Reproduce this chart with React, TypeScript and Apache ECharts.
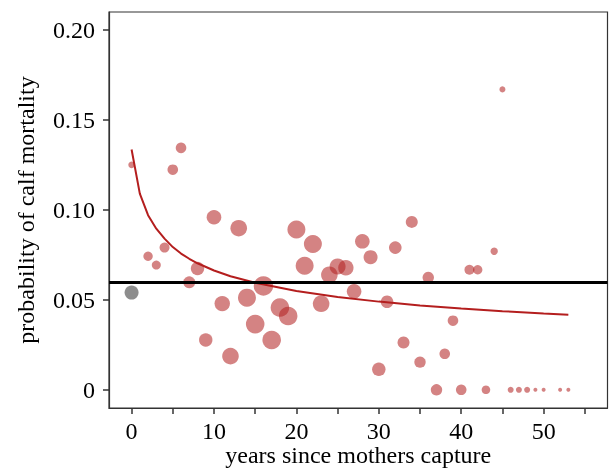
import React, { useEffect, useRef } from 'react';
import * as echarts from 'echarts';

// years since mother's capture (red points)
const yearsRed = [0, 2, 3, 4, 5, 6, 7, 8, 9, 10, 11, 12, 13, 14, 15, 16, 17, 18, 19, 20, 21, 22, 23, 24, 25, 26, 27, 28, 29, 30, 31, 32, 33, 34, 35, 36, 37, 38, 39, 40, 41, 42, 43, 44, 45, 46, 47, 48, 49, 50, 52, 53];
// observed probability of calf mortality
const mortalityRed = [0.125, 0.0742, 0.0693, 0.079, 0.1223, 0.1344, 0.0597, 0.0674, 0.0277, 0.0959, 0.0479, 0.0187, 0.0898, 0.0512, 0.0365, 0.0577, 0.0277, 0.0457, 0.041, 0.0891, 0.0689, 0.081, 0.0478, 0.0639, 0.0685, 0.0678, 0.0547, 0.0825, 0.0737, 0.0114, 0.0489, 0.079, 0.0263, 0.0933, 0.0154, 0.0624, 0, 0.02, 0.0384, 0, 0.0667, 0.0667, 0, 0.077, 0.1669, 0, 0, 0, 0, 0, 0, 0];
// relative marker weight (sample size), read as marker diameter
const weightRed = [6.6, 9.4, 9, 10, 10.6, 10.6, 12, 13.4, 13.4, 14.6, 15.4, 16.6, 16.6, 18, 18.6, 19.4, 18.6, 18.6, 18.6, 18, 18, 18, 16.6, 16.6, 16, 15.4, 14.6, 14.6, 14, 13.4, 12.6, 12.6, 12, 12, 11.4, 11.4, 11.4, 10.6, 10.6, 10.6, 10, 9.4, 8.6, 7.4, 6, 6, 6, 6, 4, 4, 4, 4];

// grey reference point
const yearsGrey = [0];
const mortalityGrey = [0.054];
const weightGrey = [14];

// fitted curve
const curveYears = [0, 1, 2, 3, 4, 5, 6, 7, 8, 10, 12, 15, 20, 25, 30, 35, 40, 45, 50, 53];
const curveValues = [0.1335, 0.109, 0.097, 0.0895, 0.084, 0.0793, 0.0757, 0.0728, 0.0703, 0.0663, 0.0631, 0.0595, 0.0549, 0.0516, 0.049, 0.0469, 0.0452, 0.0437, 0.0424, 0.0417];

// overall mean
const meanMortality = 0.0584;

const xTicks = [0, 5, 10, 15, 20, 25, 30, 35, 40, 45, 50, 55];
const xLabels = [0, 10, 20, 30, 40, 50];
const yTicks = [0, 0.05, 0.1, 0.15, 0.2];

const FONT = 'Liberation Serif';

export default function App() {
  const ref = useRef<HTMLDivElement>(null);
  useEffect(() => {
    if (!ref.current) return;
    const chart = echarts.init(ref.current, null, { renderer: 'svg' });
    const redData = yearsRed.map((x, i) => [x, mortalityRed[i], weightRed[i]]);
    const greyData = yearsGrey.map((x, i) => [x, mortalityGrey[i], weightGrey[i]]);
    const curveData = curveYears.map((x, i) => [x, curveValues[i]]);
    chart.setOption({
      animation: false,
      grid: {
        left: 109,
        top: 12,
        width: 498.5,
        height: 399.5,
        show: true,
        borderColor: '#333',
        borderWidth: 1.2,
      },
      xAxis: {
        type: 'value',
        min: -2.74,
        max: 57.75,
        splitLine: { show: false },
        axisLine: { show: true, onZero: false, lineStyle: { color: '#333', width: 1.2 } },
        axisTick: { show: true, length: 6, lineStyle: { color: '#333', width: 1.5 }, customValues: xTicks },
        axisLabel: { customValues: xLabels, color: '#000', fontSize: 24, fontFamily: FONT, margin: 11 },
        name: 'years since mothers capture',
        nameLocation: 'middle',
        nameGap: 35,
        nameMoveOverlap: false,
        nameTextStyle: { color: '#000', fontSize: 24, fontFamily: FONT },
      },
      yAxis: {
        type: 'value',
        min: -0.0101,
        max: 0.2099,
        splitLine: { show: false },
        axisLine: { show: true, onZero: false, lineStyle: { color: '#333', width: 1.2 } },
        axisTick: { show: true, length: 6, lineStyle: { color: '#333', width: 1.5 }, customValues: yTicks },
        axisLabel: {
          customValues: yTicks,
          color: '#000',
          fontSize: 24,
          fontFamily: FONT,
          margin: 14,
          formatter: (v: number) => (v === 0 ? '0' : v.toFixed(2)),
        },
        name: 'probability of calf mortality',
        nameLocation: 'middle',
        nameGap: 71,
        nameMoveOverlap: false,
        nameTextStyle: { color: '#000', fontSize: 24, fontFamily: FONT },
      },
      series: [
        {
          type: 'scatter',
          data: redData,
          symbolSize: (v: number[]) => v[2],
          itemStyle: { color: 'rgba(178,34,34,0.7)' },
          z: 2,
        },
        {
          type: 'scatter',
          data: greyData,
          symbolSize: (v: number[]) => v[2],
          itemStyle: { color: 'rgba(51,51,51,0.7)' },
          z: 2,
        },
        {
          type: 'line',
          data: curveData,
          showSymbol: false,
          lineStyle: { color: '#b41e1e', width: 2 },
          z: 3,
        },
        {
          type: 'line',
          data: [],
          z: 4,
          markLine: {
            silent: true,
            symbol: ['none', 'none'],
            label: { show: false },
            lineStyle: { color: '#000', width: 3, type: 'solid' },
            data: [{ yAxis: meanMortality }],
          },
        },
      ],
    });
    return () => chart.dispose();
  }, []);
  return <div ref={ref} style={{ position: 'fixed', left: 0, top: 0, width: 611, height: 472 }} />;
}
